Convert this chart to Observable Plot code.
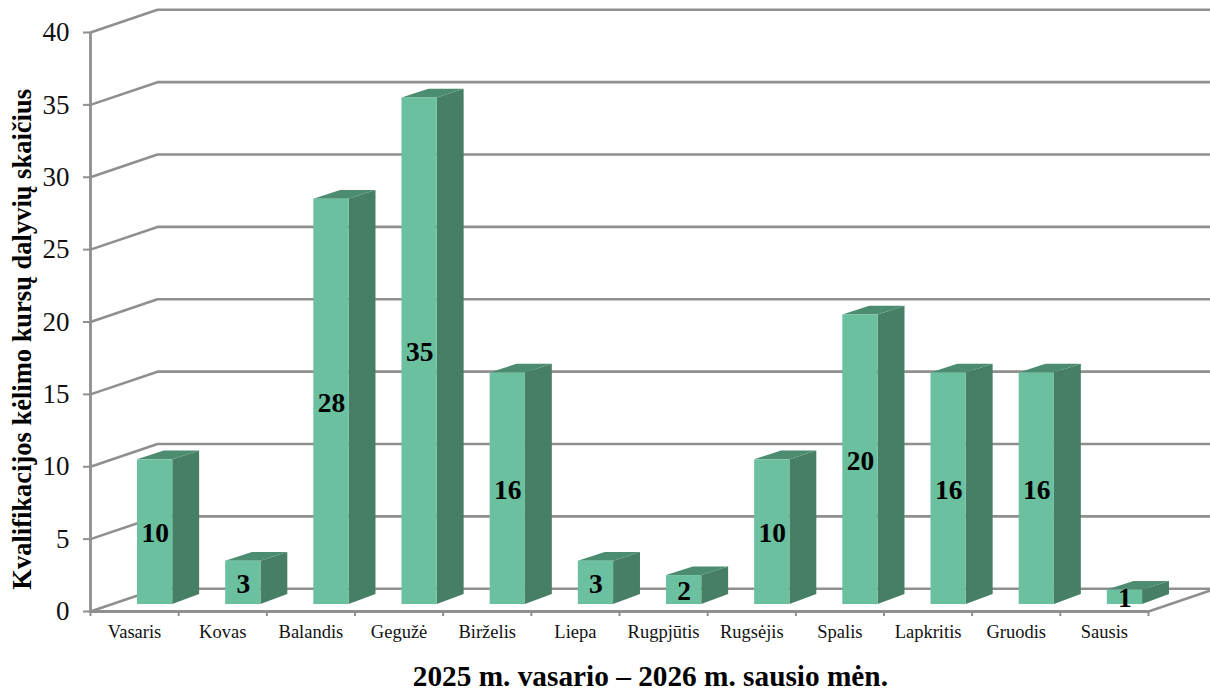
<!DOCTYPE html>
<html lang="lt">
<head>
<meta charset="utf-8">
<script src="https://cdn.jsdelivr.net/npm/d3@7"></script>
<script src="https://cdn.jsdelivr.net/npm/@observablehq/plot@0.6"></script>
<style>
html,body{margin:0;padding:0;background:#fff}
svg{display:block}
</style>
</head>
<body>
<div id="chart"></div>
<script>
const months = ["Vasaris","Kovas","Balandis","Gegužė","Birželis","Liepa","Rugpjūtis","Rugsėjis","Spalis","Lapkritis","Gruodis","Sausis"];
const counts = [10,3,28,35,16,3,2,10,20,16,16,1];
const yTicks = [0,5,10,15,20,25,30,35,40];
const yTitle = "Kvalifikacijos kėlimo kursų dalyvių skaičius";
const xTitle = "2025 m. vasario – 2026 m. sausio mėn.";

// oblique-projection constants, in data units
const wallDx = 0.76, wallDy = 1.57;   // back wall offset
const barLeft = 0.533, barWidth = 0.4;
const barBase = 0.48;                 // lift of the bar's front face
const sideDx = 0.305, sideDy = 0.6;   // bar depth

const colors = {front:"#6ac09f", side:"#477f66", top:"#4c8c70", axis:"#8f8f8f"};

const bars = counts.map((v,i)=>({i,v,x1:i+barLeft,x2:i+barLeft+barWidth,base:barBase,top:barBase+v}));
const sidePts = bars.flatMap(b=>[
  {i:b.i,x:b.x2,lo:b.base,hi:b.top},
  {i:b.i,x:b.x2+sideDx,lo:b.base+sideDy+0.1,hi:b.top+sideDy}
]);
const topPts = bars.flatMap(b=>[
  {i:b.i,x1:b.x1,y1:b.top,x2:b.x1+sideDx,y2:b.top+sideDy},
  {i:b.i,x1:b.x2,y1:b.top,x2:b.x2+sideDx,y2:b.top+sideDy}
]);
const gridPts = yTicks.flatMap(t=>[
  {t,x:0,y:t},{t,x:wallDx,y:t+wallDy},{t,x:12+wallDx,y:t+wallDy}
]);
const floorPts = [{x:12,y:0},{x:12+wallDx,y:wallDy}];

const plot = Plot.plot({
  width:1210,height:691,
  marginLeft:90,marginRight:62,marginTop:32,marginBottom:80,
  style:{fontFamily:"'Liberation Serif',serif",background:"#fff",color:"#000"},
  x:{domain:[0,12],axis:null},
  y:{domain:[0,40],axis:null},
  marks:[
    Plot.line(gridPts,{x:"x",y:"y",z:"t",stroke:colors.axis,strokeWidth:2.6}),
    Plot.line(floorPts,{x:"x",y:"y",stroke:colors.axis,strokeWidth:2.6}),
    Plot.ruleX([0],{y1:0,y2:40,stroke:colors.axis,strokeWidth:2.8}),
    Plot.ruleY([0],{x1:0,x2:12,stroke:colors.axis,strokeWidth:2.8}),
    Plot.axisY({ticks:yTicks,tickSize:7,tickPadding:14,stroke:colors.axis,strokeWidth:2,fontSize:27,fill:"#111",label:null}),
    Plot.axisX({ticks:d3.range(13),tickSize:5,stroke:colors.axis,strokeWidth:2,tickFormat:()=>"",label:null}),
    Plot.axisX({ticks:d3.range(12).map(i=>i+0.5),tickSize:0,tickPadding:13,fontSize:18.5,fill:"#111",tickFormat:d=>months[Math.floor(d)],label:null}),
    Plot.area(sidePts,{x1:"x",y1:"lo",y2:"hi",z:"i",fill:colors.side}),
    Plot.area(topPts,{x1:"x1",y1:"y1",x2:"x2",y2:"y2",z:"i",fill:colors.top}),
    Plot.rect(bars,{x1:"x1",x2:"x2",y1:"base",y2:"top",fill:colors.front}),
    Plot.text(bars,{x:d=>d.x1+barWidth/2,y:d=>d.base+d.v/2,dy:1,text:d=>String(d.v),fontSize:27.5,fontWeight:"bold",fill:"#000"}),
    Plot.text([yTitle],{x:-0.77,y:18.8,text:d=>d,rotate:-90,fontSize:26.5,fontWeight:"bold",fill:"#000"}),
    Plot.text([xTitle],{x:6.35,y:-4.5,text:d=>d,fontSize:29.3,fontWeight:"bold",fill:"#000"})
  ]
});
document.getElementById("chart").append(plot);
</script>
</body>
</html>
